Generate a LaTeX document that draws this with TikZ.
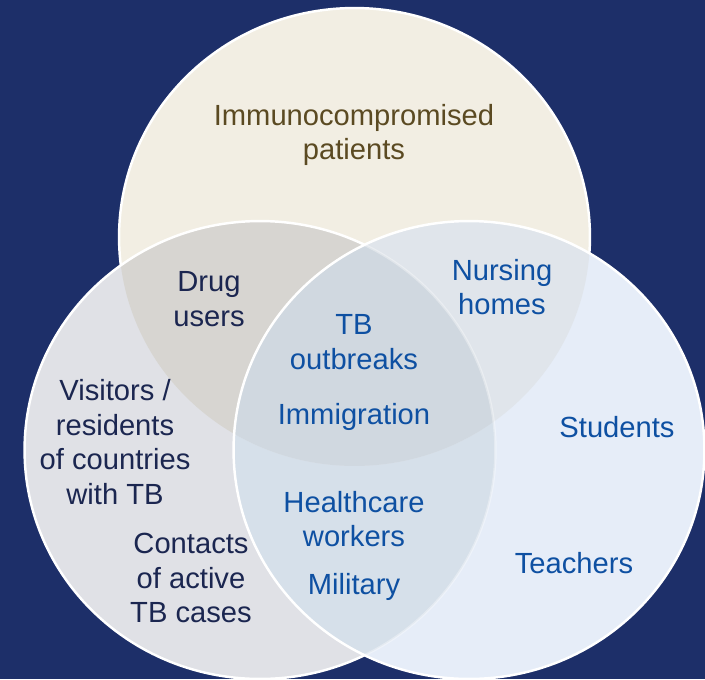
\documentclass[tikz,border=0pt]{standalone}
\usepackage{fontspec}
\setmainfont{Liberation Sans}
\usepackage{tikz}
\usetikzlibrary{backgrounds}

\definecolor{navybg}{HTML}{1D2F69}
\definecolor{topfill}{HTML}{F2EEE3}
\definecolor{leftfill}{HTML}{E0E1E6}
\definecolor{rightfill}{HTML}{E6EDF8}
\definecolor{topleft}{HTML}{D7D5D1}
\definecolor{topright}{HTML}{E0E5EB}
\definecolor{leftright}{HTML}{D6E0EA}
\definecolor{allthree}{HTML}{D0D8E0}
\definecolor{browntxt}{HTML}{5B4A22}
\definecolor{navytxt}{HTML}{1B2650}
\definecolor{bluetxt}{HTML}{0E50A2}

\begin{document}
\begin{tikzpicture}[
    % one unit = one pixel of the reference, y going down
    x=0.02cm, y=-0.02cm,
    % size of every set
    setsize/.style={x radius=4.71cm, y radius=4.58cm},
    % white rim round a set
    rim/.style={draw=white, line width=1.4pt},
    % --- text styles ---
    txt/.style={
        align=center,
        inner sep=0pt,
        font=\fontsize{16.6}{19.8}\selectfont
    },
    brown/.style={txt, text=browntxt},
    dark/.style={txt, text=navytxt},
    blue/.style={txt, text=bluetxt}
]

% --- background and set centres ---
\useasboundingbox (0,0) rectangle (705,679);
\fill[navybg] (0,0) rectangle (705,679);
\coordinate (top) at (354.5,237);
\coordinate (left) at (260,450);
\coordinate (right) at (469,450);

% top set
\fill[topfill] (top) circle[setsize];
\draw[rim] (top) circle[setsize];

% left set
\fill[leftfill] (left) circle[setsize];
\begin{scope}
    \clip (top) circle[setsize];
    \fill[topleft] (left) circle[setsize];
\end{scope}
\draw[rim] (left) circle[setsize];

% right set
\fill[rightfill] (right) circle[setsize];
\begin{scope}
    \clip (right) circle[setsize];
    \fill[leftright] (left) circle[setsize];
    \clip (top) circle[setsize];
    \fill[topright] (right) circle[setsize];
    \fill[allthree] (left) circle[setsize];
\end{scope}
\begin{scope}
    \clip (right) circle[setsize];
    \draw[rim, draw opacity=0.35] (left) circle[setsize];
\end{scope}
\draw[rim] (right) circle[setsize];

% --- labels ---
\node[brown] (immuno) at (354,135) {Immunocompromised\\patients};
\node[dark] (drug) at (209,299) {Drug\\users};
\node[dark] (visitors) at (115,442) {Visitors /\\residents\\of countries\\with TB};
\node[dark] (contacts) at (191,578) {Contacts\\of active\\TB cases};
\node[blue] (outbreaks) at (354,342) {TB\\outbreaks};
\node[blue] (immigration) at (354,417) {Immigration};
\node[blue] (health) at (354,519) {Healthcare\\workers};
\node[blue] (military) at (354,587) {Military};
\node[blue] (nursing) at (502,287) {Nursing\\homes};
\node[blue] (students) at (617,427) {Students};
\node[blue] (teachers) at (574,563) {Teachers};

\end{tikzpicture}
\end{document}
